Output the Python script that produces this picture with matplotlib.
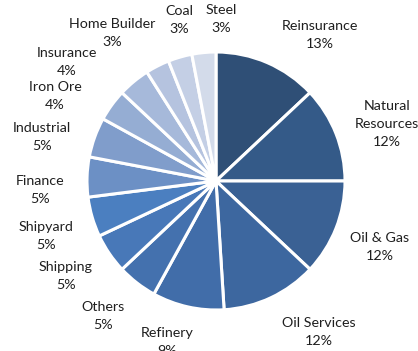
import matplotlib
matplotlib.use("Agg")
import matplotlib.pyplot as plt

# sector shares, clockwise from 12 o'clock
sectors = ["Reinsurance", "Natural\nResources", "Oil & Gas", "Oil Services",
           "Refinery", "Others", "Shipping", "Shipyard", "Finance",
           "Industrial", "Iron Ore", "Insurance", "Home Builder", "Coal", "Steel"]
shares = [13, 12, 12, 12, 9, 5, 5, 5, 5, 5, 4, 4, 3, 3, 3]

colors = ["#2f4f76", "#345a88", "#3a6194", "#3d679f", "#416da9", "#4471ae",
          "#4878b8", "#4b7fc0", "#6c90c5", "#809dcb", "#95add3", "#a6b9da",
          "#b5c3df", "#c4cfe5", "#d3dbea"]

# label centres in pixel coords (x from left, y from top)
label_xy = [(320, 35), (387, 124), (380, 247), (319, 332), (167, 342),
            (103, 316), (66, 276), (46, 236), (40, 190), (42, 137),
            (55, 96), (67, 62), (112, 33), (179, 20), (221, 19)]

W, H = 418, 351
fig = plt.figure(figsize=(W / 100, H / 100), dpi=100)
ax = fig.add_axes([0, 0, 1, 1])

ax.pie(shares, colors=colors, startangle=90, counterclock=False,
       center=(216, 170), radius=129,
       wedgeprops=dict(edgecolor="white", linewidth=2.2))

# pie() resets the limits, so set them afterwards
ax.set_xlim(0, W)
ax.set_ylim(0, H)
ax.set_aspect("equal")
ax.axis("off")

for name, val, (x, y) in zip(sectors, shares, label_xy):
    ax.text(x, H - y, f"{name}\n{val}%", ha="center", va="center",
            fontsize=10.3, family="Lato", color="#1f1f1f", linespacing=1.55)

fig.savefig("out.png", dpi=100)
